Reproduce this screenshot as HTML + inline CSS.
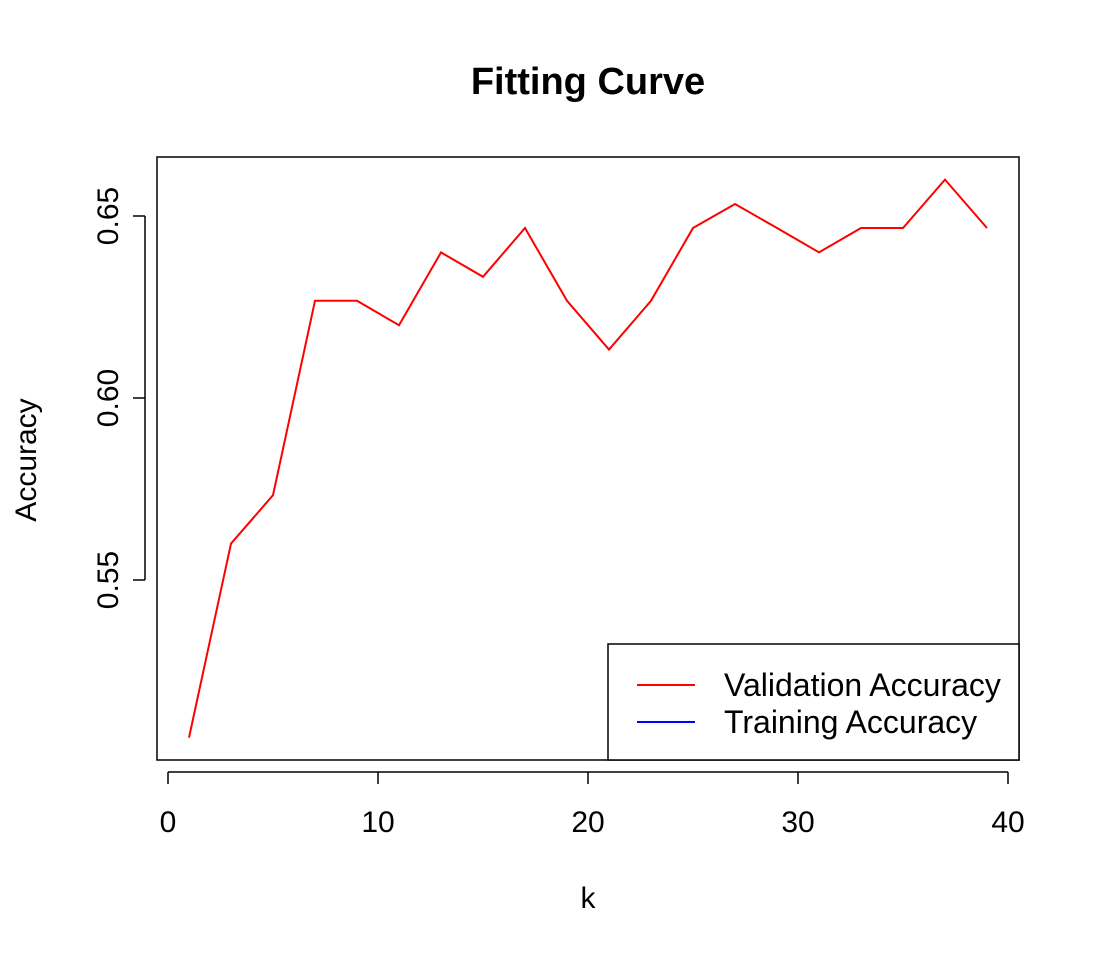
<!DOCTYPE html>
<html><head><meta charset="utf-8"><style>
html,body{margin:0;padding:0;background:#fff;}
svg{display:block;font-family:"Liberation Sans",Arial,sans-serif;}
</style></head><body>
<svg id="chart" width="1100" height="956" viewBox="0 0 1100 956" xmlns="http://www.w3.org/2000/svg">
<rect width="1100" height="956" fill="#fff"/>
<text x="588" y="94" text-anchor="middle" font-size="38" font-weight="bold">Fitting Curve</text>
<rect x="157" y="157" width="862" height="603" fill="none" stroke="#000" stroke-width="1.5"/>
<g id="xaxis"></g>
<g id="yaxis"></g>
<text x="588" y="908" text-anchor="middle" font-size="30">k</text>
<text transform="translate(36,460) rotate(-90)" text-anchor="middle" font-size="30">Accuracy</text>
<g id="series"></g>
<g>
<rect x="608" y="644" width="411" height="116" fill="#fff" stroke="#000" stroke-width="1.5"/>
<line x1="637" y1="685" x2="695" y2="685" stroke="#ff0000" stroke-width="2"/>
<text x="724" y="696" font-size="32">Validation Accuracy</text>
<line x1="637" y1="722" x2="695" y2="722" stroke="#0000ff" stroke-width="2"/>
<text x="724" y="733" font-size="32">Training Accuracy</text>
</g>
</svg>
<script>
const kValues=[1,3,5,7,9,11,13,15,17,19,21,23,25,27,29,31,33,35,37,39];
const validationAcc=[0.5067,0.56,0.5733,0.6267,0.6267,0.62,0.64,0.6333,0.6467,0.6267,0.6133,0.6267,0.6467,0.6533,0.6467,0.64,0.6467,0.6467,0.66,0.6467];
const xTicks=[0,10,20,30,40];
const yTicks=[0.55,0.60,0.65];
const yTickLabels=["0.55","0.60","0.65"];
const NS="http://www.w3.org/2000/svg";
function xs(v){return 168+v*21;}
function ys(v){return 216+(0.65-v)*3640;}
function mk(t,a){const e=document.createElementNS(NS,t);for(const k in a)e.setAttribute(k,a[k]);return e;}
const xa=document.getElementById('xaxis');
const al=mk('line',{x1:xs(xTicks[0]),x2:xs(xTicks[xTicks.length-1]),y1:772,y2:772,stroke:'#000','stroke-width':1.5});


xa.appendChild(al);
xTicks.forEach(t=>{
 const l=mk('line',{x1:xs(t),x2:xs(t),y1:772,y2:784,stroke:'#000','stroke-width':1.5});
 
 
 xa.appendChild(l);
 const tx=mk('text',{x:xs(t),y:832,'text-anchor':'middle','font-size':30});
 
 
 tx.textContent=t;xa.appendChild(tx);
});
const ya=document.getElementById('yaxis');
const yl=mk('line',{x1:145,x2:145,y1:ys(yTicks[0]),y2:ys(yTicks[yTicks.length-1]),stroke:'#000','stroke-width':1.5});


ya.appendChild(yl);
yTicks.forEach((t,i)=>{
 const l=mk('line',{x1:133,x2:145,y1:ys(t),y2:ys(t),stroke:'#000','stroke-width':1.5});
 
 
 ya.appendChild(l);
 const tx=mk('text',{transform:`translate(118,${ys(t)}) rotate(-90)`,'text-anchor':'middle','font-size':30});
 
 
 tx.textContent=yTickLabels[i];ya.appendChild(tx);
});
const pts=kValues.map((k,i)=>xs(k)+','+ys(validationAcc[i])).join(' ');
const pl=mk('polyline',{points:pts,fill:'none',stroke:'#ff0000','stroke-width':2});


document.getElementById('series').appendChild(pl);
</script>
</body></html>
